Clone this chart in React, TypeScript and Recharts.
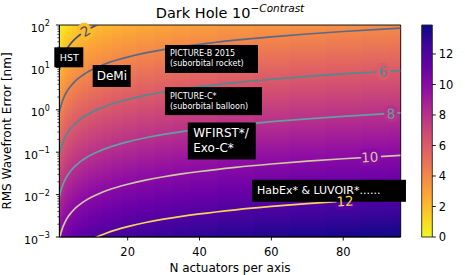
import React from 'react';
import { ComposedChart, Line, XAxis, YAxis, ReferenceArea, ReferenceDot } from 'recharts';

// ---- data ----
const nActuators = [1, 1.25, 1.5, 1.75, 2, 2.5, 3, 3.5, 4, 5, 6, 7, 8, 10, 12, 14, 17, 20, 25, 30, 35, 40, 50, 60, 70, 80, 90, 96];

// RMS wavefront error [nm] along each contour level of -log10(contrast)
const err2 = [8.77, 10.96, 13.16, 15.35, 17.54, 21.93, 26.31, 30.7, 35.08, 43.85, 52.62, 61.39, 70.16, 87.7, 105.2, 122.8, 149.1, 175.4, 219.3, 263.1, 307, 350.8, 438.5, 526.2, 613.9, 701.6, 789.3, 841.9];
const err4 = [0.877, 1.096, 1.316, 1.535, 1.754, 2.193, 2.631, 3.07, 3.508, 4.385, 5.262, 6.139, 7.016, 8.77, 10.52, 12.28, 14.91, 17.54, 21.93, 26.31, 30.7, 35.08, 43.85, 52.62, 61.39, 70.16, 78.93, 84.19];
const err6 = [0.0877, 0.1096, 0.1316, 0.1535, 0.1754, 0.2193, 0.2631, 0.307, 0.3508, 0.4385, 0.5262, 0.6139, 0.7016, 0.877, 1.052, 1.228, 1.491, 1.754, 2.193, 2.631, 3.07, 3.508, 4.385, 5.262, 6.139, 7.016, 7.893, 8.419];
const err8 = [0.00877, 0.01096, 0.01316, 0.01535, 0.01754, 0.02193, 0.02631, 0.0307, 0.03508, 0.04385, 0.05262, 0.06139, 0.07016, 0.0877, 0.1052, 0.1228, 0.1491, 0.1754, 0.2193, 0.2631, 0.307, 0.3508, 0.4385, 0.5262, 0.6139, 0.7016, 0.7893, 0.8419];
const err10 = [0.000877, 0.001096, 0.001316, 0.001535, 0.001754, 0.002193, 0.002631, 0.00307, 0.003508, 0.004385, 0.005262, 0.006139, 0.007016, 0.00877, 0.01052, 0.01228, 0.01491, 0.01754, 0.02193, 0.02631, 0.0307, 0.03508, 0.04385, 0.05262, 0.06139, 0.07016, 0.07893, 0.08419];
const err12 = [0.0000877, 0.0001096, 0.0001316, 0.0001535, 0.0001754, 0.0002193, 0.0002631, 0.000307, 0.0003508, 0.0004385, 0.0005262, 0.0006139, 0.0007016, 0.000877, 0.001052, 0.001228, 0.001491, 0.001754, 0.002193, 0.002631, 0.00307, 0.003508, 0.004385, 0.005262, 0.006139, 0.007016, 0.007893, 0.008419];

const contourLevels = [2, 4, 6, 8, 10, 12];
const xTicks = [20, 40, 60, 80];
const yMajorTicks = [0.001, 0.01, 0.1, 1, 10, 100];
const colorbarTicks = [0, 2, 4, 6, 8, 10, 12];
const colorbarMax = 13.9;

const contourLabels = [
  { level: 2, text: '2', n: 8.2, err: 71.9 },
  { level: 6, text: '6', n: 91, err: 7.98 },
  { level: 8, text: '8', n: 93.3, err: 0.818 },
  { level: 10, text: '10', n: 87.4, err: 0.0767 },
  { level: 12, text: '12', n: 80.5, err: 0.00706 },
];

const annotations = [
  { lines: ['HST'], n: 3.61, err: 17.3 },
  { lines: ['DeMi'], n: 15.55, err: 6.27 },
  { lines: ['PICTURE-B 2015', '(suborbital rocket)'], n: 43.33, err: 15.8 },
  { lines: ['PICTURE-C*', '(suborbital balloon)'], n: 43.88, err: 1.6 },
  { lines: ['WFIRST*/', 'Exo-C*'], n: 46.19, err: 0.184 },
  { lines: ['HabEx* & LUVOIR*......'], n: 76.03, err: 0.0123 },
];

// ---- styles ----
const FONT = "'DejaVu Sans', sans-serif";
const boxStyles = [
  { w: 29, h: 20, size: 9.5, gap: 0, pad: 5.5 },
  { w: 38, h: 22, size: 12, gap: 0, pad: 4 },
  { w: 93, h: 28, size: 8, gap: 10, pad: 5 },
  { w: 97, h: 28, size: 8, gap: 10, pad: 5 },
  { w: 68, h: 37, size: 12, gap: 15, pad: 5.5 },
  { w: 154, h: 22, size: 11, gap: 0, pad: 5 },
];
const lineColors: Record<number, string> = {
  2: '#4b4a78',
  4: '#586a88',
  6: '#508a90',
  8: '#62a0a0',
  10: '#cfc7a0',
  12: '#f5d35c',
};
const plasma = ['#0d0887', '#41049d', '#6a00a8', '#8f0da4', '#b12a90', '#cc4778', '#e16462', '#f2844b', '#fca636', '#fcce25', '#f0f921'];

function hexToRgb(h: string) {
  return [parseInt(h.slice(1, 3), 16), parseInt(h.slice(3, 5), 16), parseInt(h.slice(5, 7), 16)];
}
function plasmaAt(p: number) {
  const q = Math.max(0, Math.min(1, p)) * 10;
  const i = Math.min(9, Math.floor(q));
  const t = q - i;
  const a = hexToRgb(plasma[i]);
  const b = hexToRgb(plasma[i + 1]);
  const c = a.map((v, k) => Math.round(v + (b[k] - v) * t));
  return `rgb(${c[0]},${c[1]},${c[2]})`;
}
const levelColor = (L: number) => plasmaAt(1 - L / colorbarMax);

// ---- tables built from the arrays ----
const table = nActuators.map((n, i) => ({
  n,
  c2: err2[i],
  c4: err4[i],
  c6: err6[i],
  c8: err8[i],
  c10: err10[i],
  c12: err12[i],
}));

// background field: each column spans level -2 (top) .. level 16 (bottom)
const BG_TOP = -2;
const BG_BOTTOM = 16;
const bgColumns = nActuators.map((n, i) => ({
  x1: i === 0 ? n : (nActuators[i - 1] + n) / 2,
  x2: i === nActuators.length - 1 ? n : nActuators[i + 1],
  top: err10[i] * Math.pow(10, (10 - BG_TOP) / 2),
  bottom: err10[i] * Math.pow(10, (10 - BG_BOTTOM) / 2),
}));
const bgStops: { o: number; c: string }[] = [{ o: 0, c: plasma[10] }];
for (let k = 10; k >= 0; k--) {
  const L = colorbarMax * (1 - k / 10);
  bgStops.push({ o: (L - BG_TOP) / (BG_BOTTOM - BG_TOP), c: plasma[k] });
}
bgStops.push({ o: 1, c: plasma[0] });

const yMinorTicks: number[] = [];
yMajorTicks.slice(0, -1).forEach((d) => {
  for (let k = 2; k <= 9; k++) yMinorTicks.push(+(k * d).toPrecision(3));
});
const yAllTicks = [...yMajorTicks, ...yMinorTicks];

const YTick = (props: any) => {
  const { x, y, payload } = props;
  const v = payload.value;
  const major = yMajorTicks.includes(v);
  const exp = Math.round(Math.log10(v));
  const expText = exp < 0 ? '\u2212' + Math.abs(exp) : String(exp);
  return (
    <g>
      <line x1={x} x2={x - (major ? 3.5 : 2)} y1={y} y2={y} stroke="#000" strokeWidth={major ? 0.9 : 0.7} />
      {major && (
        <text x={x - 9.5} y={y + 3} textAnchor="end" fontSize={11} fontFamily={FONT} fill="#000" dominantBaseline="central">
          10
          <tspan dy={-5} fontSize={8}>{expText}</tspan>
        </text>
      )}
    </g>
  );
};

const AnnotationBox = ({ cx, cy, idx }: any) => {
  const a = annotations[idx];
  const s = boxStyles[idx];
  const left = cx - s.w / 2;
  return (
    <g>
      <rect x={left} y={cy - s.h / 2} width={s.w} height={s.h} fill="#000" />
      {a.lines.map((t, i) => (
        <text
          key={i}
          x={left + s.pad}
          y={cy + (i - (a.lines.length - 1) / 2) * s.gap}
          fontSize={s.size}
          fontFamily={FONT}
          fill="#fff"
          dominantBaseline="central"
        >
          {t}
        </text>
      ))}
    </g>
  );
};

const ContourLabel = ({ cx, cy, idx, halo }: any) => {
  const l = contourLabels[idx];
  const rot = l.level === 2 ? -32 : -3;
  return (
    <text
      x={cx}
      y={cy}
      textAnchor="middle"
      dominantBaseline="central"
      fontSize={13.5}
      fontFamily={FONT}
      transform={`rotate(${rot} ${cx} ${cy})`}
      fill={halo ? levelColor(l.level) : lineColors[l.level]}
      stroke={halo ? levelColor(l.level) : 'none'}
      strokeWidth={halo ? 7 : 0}
      strokeLinejoin="round"
    >
      {l.text}
    </text>
  );
};

export default function App() {
  return (
    <div style={{ position: 'fixed', left: 0, top: 0, width: 465, height: 275, background: '#fff' }}>
      <div style={{ position: 'absolute', left: 0, top: 0 }}>
        <ComposedChart width={465} height={275} data={table} margin={{ top: 25, right: 64.3, bottom: 0, left: 0 }}>
          <defs>
            <linearGradient id="bgGrad" x1="0" y1="0" x2="0" y2="1">
              {bgStops.map((s, i) => (
                <stop key={i} offset={s.o} stopColor={s.c} />
              ))}
            </linearGradient>
          </defs>
          <XAxis
            dataKey="n"
            type="number"
            domain={[1, 96]}
            ticks={xTicks}
            allowDataOverflow
            height={38}
            tickSize={3.5}
            tickMargin={7}
            interval={0}
            tick={{ fontSize: 11.5, fill: '#000', fontFamily: FONT }}
            tickLine={{ stroke: '#000', strokeWidth: 0.9 }}
            axisLine={{ stroke: '#000', strokeWidth: 0.9 }}
          />
          <YAxis
            type="number"
            scale="log"
            domain={[0.001, 100]}
            ticks={yAllTicks}
            allowDataOverflow
            width={59.42}
            tickSize={0}
            tickMargin={0}
            interval={0}
            tickLine={false}
            tick={<YTick />}
            axisLine={{ stroke: '#000', strokeWidth: 0.9 }}
          />
          {bgColumns.map((c, i) => (
            <ReferenceArea
              key={'bg' + i}
              x1={c.x1}
              x2={c.x2}
              y1={c.bottom}
              y2={c.top}
              fill="url(#bgGrad)"
              fillOpacity={1}
              stroke="none"
              ifOverflow="hidden"
            />
          ))}
          {contourLevels.map((L) => (
            <Line
              key={'c' + L}
              dataKey={'c' + L}
              type="monotone"
              stroke={lineColors[L]}
              strokeWidth={1.7}
              dot={false}
              activeDot={false}
              isAnimationActive={false}
            />
          ))}
          <ReferenceArea x1={1} x2={96} y1={0.001} y2={100} fill="none" stroke="#000" strokeWidth={0.9} ifOverflow="visible" />
          {contourLabels.map((l, i) => (
            <ReferenceDot
              key={'halo' + i}
              x={l.n}
              y={l.err}
              r={0}
              ifOverflow="hidden"
              shape={(p: any) => <ContourLabel cx={p.cx} cy={p.cy} idx={i} halo />}
            />
          ))}
          {annotations.map((a, i) => (
            <ReferenceDot
              key={'ann' + i}
              x={a.n}
              y={a.err}
              r={0}
              ifOverflow="visible"
              shape={(p: any) => <AnnotationBox cx={p.cx} cy={p.cy} idx={i} />}
            />
          ))}
          {contourLabels.map((l, i) => (
            <ReferenceDot
              key={'lab' + i}
              x={l.n}
              y={l.err}
              r={0}
              ifOverflow="hidden"
              shape={(p: any) => <ContourLabel cx={p.cx} cy={p.cy} idx={i} />}
            />
          ))}
        </ComposedChart>
      </div>
      <div style={{ position: 'absolute', left: 0, top: 0 }}>
        <ComposedChart width={465} height={275} data={[{ x: 0 }, { x: 1 }]} margin={{ top: 25, right: 0, bottom: 38, left: 421.7 }}>
          <defs>
            <linearGradient id="cbGrad" x1="0" y1="0" x2="0" y2="1">
              {plasma.map((c, k) => (
                <stop key={k} offset={k / 10} stopColor={c} />
              ))}
            </linearGradient>
          </defs>
          <XAxis dataKey="x" type="number" domain={[0, 1]} hide />
          <YAxis
            orientation="right"
            type="number"
            domain={[0, colorbarMax]}
            ticks={colorbarTicks}
            allowDataOverflow
            width={32.7}
            tickSize={3.5}
            tickMargin={3}
            interval={0}
            tick={{ fontSize: 11.5, fill: '#000', fontFamily: FONT }}
            tickLine={{ stroke: '#000', strokeWidth: 0.9 }}
            axisLine={false}
          />
          <ReferenceArea x1={0} x2={1} y1={0} y2={colorbarMax} fill="url(#cbGrad)" fillOpacity={1} stroke="#222" strokeWidth={0.9} ifOverflow="visible" />
        </ComposedChart>
      </div>
      <svg width={465} height={275} style={{ position: 'absolute', left: 0, top: 0, pointerEvents: 'none' }}>
        <text x={230} y={17.5} textAnchor="middle" fontSize={14.5} fontFamily={FONT} fill="#000">
          Dark Hole 10
          <tspan dy={-6} fontSize={10.5} fontStyle="italic">{'\u2212Contrast'}</tspan>
        </text>
        <text x={230} y={271.5} textAnchor="middle" fontSize={12} fontFamily={FONT} fill="#000">
          N actuators per axis
        </text>
        <text
          x={0}
          y={0}
          transform="translate(10.5 131) rotate(-90)"
          textAnchor="middle"
          fontSize={12}
          fontFamily={FONT}
          fill="#000"
        >
          RMS Wavefront Error [nm]
        </text>
      </svg>
    </div>
  );
}
